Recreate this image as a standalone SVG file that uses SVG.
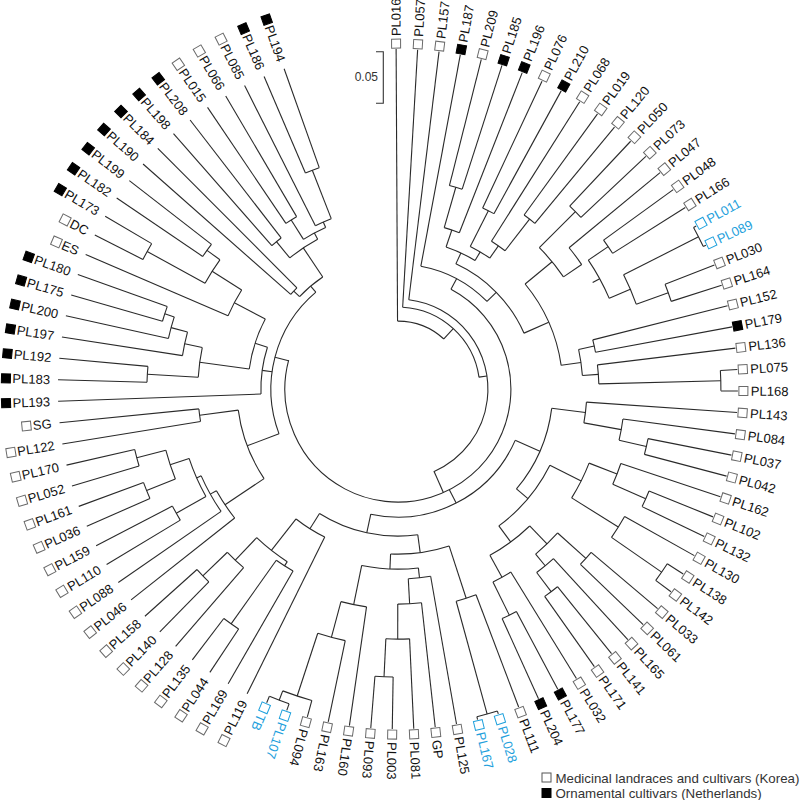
<svg xmlns="http://www.w3.org/2000/svg" width="800" height="800" viewBox="0 0 800 800">
<style>
.c line,.c circle{fill:none;stroke:#2a2a2a;stroke-width:1.1}
.lf text{font-family:"Liberation Sans",Arial,sans-serif;font-size:13px;fill:#111}
.m{fill:#fff;stroke:#6a6a6a;stroke-width:1}
.o{fill:#000;stroke:#000;stroke-width:1}
.b text{fill:#1ea0dc}
.b rect{stroke:#1ea0dc}
.lg text{font-family:"Liberation Sans",Arial,sans-serif;font-size:13.3px;fill:#333}
</style>
<rect width="800" height="800" fill="#fff"/>
<g transform="translate(397.9 389.1)">
<g id="connectors" class="c">
<circle r="68" stroke-dasharray="50.76 5000" transform="rotate(-90.3)"/>
<circle r="82" stroke-dasharray="112.04 5000" transform="rotate(-86.675)"/>
<circle r="90" stroke-dasharray="234.57 5000" transform="rotate(-83.05)"/>
<circle r="113" stroke-dasharray="505.95 5000" transform="rotate(-61.99)"/>
<circle r="125" stroke-dasharray="76.09 5000" transform="rotate(-79.425)"/>
<circle r="138" stroke-dasharray="99.30 5000" transform="rotate(-65.16)"/>
<circle r="150" stroke-dasharray="32.02 5000" transform="rotate(-71.27)"/>
<circle r="168" stroke-dasharray="15.95 5000" transform="rotate(-73.99)"/>
<circle r="210" stroke-dasharray="13.29 5000" transform="rotate(-75.8)"/>
<circle r="160" stroke-dasharray="22.76 5000" transform="rotate(-63.11)"/>
<circle r="200" stroke-dasharray="12.65 5000" transform="rotate(-64.925)"/>
<circle r="175" stroke-dasharray="16.60 5000" transform="rotate(-57.675)"/>
<circle r="215" stroke-dasharray="13.60 5000" transform="rotate(-54.05)"/>
<circle r="165" stroke-dasharray="90.05 5000" transform="rotate(-39.56)"/>
<circle r="200" stroke-dasharray="37.94 5000" transform="rotate(-44.99)"/>
<circle r="251" stroke-dasharray="15.88 5000" transform="rotate(-46.8)"/>
<circle r="222" stroke-dasharray="21.04 5000" transform="rotate(-39.55)"/>
<circle r="230" stroke-dasharray="43.64 5000" transform="rotate(-34.11)"/>
<circle r="254" stroke-dasharray="16.07 5000" transform="rotate(-35.925)"/>
<circle r="253" stroke-dasharray="32.01 5000" transform="rotate(-26.86)"/>
<circle r="337" stroke-dasharray="21.32 5000" transform="rotate(-28.675)"/>
<circle r="287" stroke-dasharray="18.16 5000" transform="rotate(-21.425)"/>
<circle r="185" stroke-dasharray="26.32 5000" transform="rotate(-12.36)"/>
<circle r="201" stroke-dasharray="12.72 5000" transform="rotate(-14.175)"/>
<circle r="201" stroke-dasharray="19.07 5000" transform="rotate(-6.925)"/>
<circle r="323" stroke-dasharray="20.44 5000" transform="rotate(-3.3)"/>
<circle r="128" stroke-dasharray="175.64 5000" transform="rotate(23.61)"/>
<circle r="155" stroke-dasharray="89.19 5000" transform="rotate(7.12)"/>
<circle r="189" stroke-dasharray="20.91 5000" transform="rotate(3.95)"/>
<circle r="227" stroke-dasharray="21.53 5000" transform="rotate(7.575)"/>
<circle r="255" stroke-dasharray="16.13 5000" transform="rotate(11.2)"/>
<circle r="170" stroke-dasharray="79.99 5000" transform="rotate(26.61)"/>
<circle r="205" stroke-dasharray="38.89 5000" transform="rotate(21.17)"/>
<circle r="235" stroke-dasharray="22.31 5000" transform="rotate(18.45)"/>
<circle r="271" stroke-dasharray="17.15 5000" transform="rotate(22.075)"/>
<circle r="260" stroke-dasharray="24.66 5000" transform="rotate(29.325)"/>
<circle r="321" stroke-dasharray="20.31 5000" transform="rotate(32.95)"/>
<circle r="190" stroke-dasharray="49.58 5000" transform="rotate(46.09)"/>
<circle r="215" stroke-dasharray="30.62 5000" transform="rotate(42.01)"/>
<circle r="253" stroke-dasharray="16.01 5000" transform="rotate(40.2)"/>
<circle r="230" stroke-dasharray="21.84 5000" transform="rotate(47.45)"/>
<circle r="254" stroke-dasharray="16.07 5000" transform="rotate(51.075)"/>
<circle r="215" stroke-dasharray="20.39 5000" transform="rotate(58.325)"/>
<circle r="252" stroke-dasharray="15.94 5000" transform="rotate(61.95)"/>
<circle r="147" stroke-dasharray="102.60 5000" transform="rotate(82.23)"/>
<circle r="165" stroke-dasharray="59.38 5000" transform="rotate(71.92)"/>
<circle r="220" stroke-dasharray="20.89 5000" transform="rotate(69.2)"/>
<circle r="337" stroke-dasharray="21.32 5000" transform="rotate(72.825)"/>
<circle r="180" stroke-dasharray="56.96 5000" transform="rotate(83.47)"/>
<circle r="190" stroke-dasharray="22.53 5000" transform="rotate(80.075)"/>
<circle r="215" stroke-dasharray="23.79 5000" transform="rotate(83.7)"/>
<circle r="250" stroke-dasharray="23.71 5000" transform="rotate(87.325)"/>
<circle r="288" stroke-dasharray="18.22 5000" transform="rotate(90.95)"/>
<circle r="220" stroke-dasharray="26.11 5000" transform="rotate(98.2)"/>
<circle r="257" stroke-dasharray="28.46 5000" transform="rotate(101.825)"/>
<circle r="323" stroke-dasharray="30.67 5000" transform="rotate(105.45)"/>
<circle r="333" stroke-dasharray="21.07 5000" transform="rotate(109.075)"/>
<circle r="165" stroke-dasharray="33.94 5000" transform="rotate(116.325)"/>
<circle r="205" stroke-dasharray="38.89 5000" transform="rotate(122.67)"/>
<circle r="210" stroke-dasharray="19.94 5000" transform="rotate(119.95)"/>
<circle r="288" stroke-dasharray="18.22 5000" transform="rotate(123.575)"/>
<circle r="236" stroke-dasharray="22.39 5000" transform="rotate(130.825)"/>
<circle r="270" stroke-dasharray="17.08 5000" transform="rotate(134.45)"/>
<circle r="127" stroke-dasharray="155.94 5000" transform="rotate(159.37)"/>
<circle r="161" stroke-dasharray="73.85 5000" transform="rotate(146.23)"/>
<circle r="208" stroke-dasharray="32.89 5000" transform="rotate(141.7)"/>
<circle r="215" stroke-dasharray="40.81 5000" transform="rotate(145.325)"/>
<circle r="220" stroke-dasharray="41.78 5000" transform="rotate(150.76)"/>
<circle r="254" stroke-dasharray="16.07 5000" transform="rotate(148.95)"/>
<circle r="240" stroke-dasharray="30.37 5000" transform="rotate(158.01)"/>
<circle r="271" stroke-dasharray="17.15 5000" transform="rotate(156.2)"/>
<circle r="270" stroke-dasharray="17.08 5000" transform="rotate(163.45)"/>
<circle r="200" stroke-dasharray="12.65 5000" transform="rotate(170.7)"/>
<circle r="137" stroke-dasharray="47.42 5000" transform="rotate(177.95)"/>
<circle r="150" stroke-dasharray="52.78 5000" transform="rotate(187.7)"/>
<circle r="200" stroke-dasharray="30.05 5000" transform="rotate(183.39)"/>
<circle r="251" stroke-dasharray="15.88 5000" transform="rotate(181.575)"/>
<circle r="218" stroke-dasharray="24.14 5000" transform="rotate(188.825)"/>
<circle r="235" stroke-dasharray="22.31 5000" transform="rotate(192.45)"/>
<circle r="245" stroke-dasharray="15.50 5000" transform="rotate(196.075)"/>
<circle r="185" stroke-dasharray="29.27 5000" transform="rotate(203.325)"/>
<circle r="220" stroke-dasharray="27.84 5000" transform="rotate(208.76)"/>
<circle r="286" stroke-dasharray="18.09 5000" transform="rotate(206.95)"/>
<circle r="236" stroke-dasharray="14.93 5000" transform="rotate(214.2)"/>
<circle r="135" stroke-dasharray="30.44 5000" transform="rotate(223.26)"/>
<circle r="143" stroke-dasharray="9.05 5000" transform="rotate(221.45)"/>
<circle r="170" stroke-dasharray="33.62 5000" transform="rotate(230.51)"/>
<circle r="191" stroke-dasharray="12.08 5000" transform="rotate(228.7)"/>
<circle r="177" stroke-dasharray="25.21 5000" transform="rotate(237.76)"/>
<circle r="200" stroke-dasharray="12.65 5000" transform="rotate(235.95)"/>
<circle r="183" stroke-dasharray="17.37 5000" transform="rotate(243.2)"/>
<circle r="235" stroke-dasharray="14.87 5000" transform="rotate(246.825)"/>
<line x1="68" x2="82" transform="rotate(-47.53)"/>
<line x1="82" x2="90" transform="rotate(-8.39)"/>
<line x1="90" x2="113" transform="rotate(66.28)"/>
<line x1="113" x2="125" transform="rotate(-61.99)"/>
<line x1="113" x2="128" transform="rotate(62.92)"/>
<line x1="113" x2="127" transform="rotate(194.55)"/>
<line x1="125" x2="138" transform="rotate(-44.55)"/>
<line x1="138" x2="150" transform="rotate(-65.16)"/>
<line x1="150" x2="168" transform="rotate(-71.27)"/>
<line x1="168" x2="210" transform="rotate(-73.99)"/>
<line x1="150" x2="160" transform="rotate(-59.04)"/>
<line x1="160" x2="200" transform="rotate(-63.11)"/>
<line x1="160" x2="175" transform="rotate(-54.96)"/>
<line x1="175" x2="215" transform="rotate(-52.24)"/>
<line x1="138" x2="165" transform="rotate(-23.93)"/>
<line x1="165" x2="200" transform="rotate(-39.56)"/>
<line x1="200" x2="251" transform="rotate(-44.99)"/>
<line x1="200" x2="222" transform="rotate(-34.12)"/>
<line x1="222" x2="230" transform="rotate(-28.68)"/>
<line x1="230" x2="254" transform="rotate(-34.11)"/>
<line x1="230" x2="253" transform="rotate(-23.24)"/>
<line x1="253" x2="337" transform="rotate(-26.86)"/>
<line x1="253" x2="287" transform="rotate(-19.61)"/>
<line x1="165" x2="185" transform="rotate(-8.29)"/>
<line x1="185" x2="201" transform="rotate(-12.36)"/>
<line x1="185" x2="201" transform="rotate(-4.21)"/>
<line x1="201" x2="323" transform="rotate(-1.49)"/>
<line x1="128" x2="155" transform="rotate(23.61)"/>
<line x1="155" x2="189" transform="rotate(7.12)"/>
<line x1="189" x2="227" transform="rotate(10.29)"/>
<line x1="227" x2="255" transform="rotate(13.01)"/>
<line x1="155" x2="170" transform="rotate(40.09)"/>
<line x1="170" x2="205" transform="rotate(26.61)"/>
<line x1="205" x2="235" transform="rotate(21.17)"/>
<line x1="235" x2="271" transform="rotate(23.89)"/>
<line x1="205" x2="260" transform="rotate(32.04)"/>
<line x1="260" x2="321" transform="rotate(34.76)"/>
<line x1="170" x2="190" transform="rotate(53.57)"/>
<line x1="190" x2="215" transform="rotate(46.09)"/>
<line x1="215" x2="253" transform="rotate(42.01)"/>
<line x1="215" x2="230" transform="rotate(50.17)"/>
<line x1="230" x2="254" transform="rotate(52.89)"/>
<line x1="190" x2="215" transform="rotate(61.04)"/>
<line x1="215" x2="252" transform="rotate(63.76)"/>
<line x1="128" x2="147" transform="rotate(102.23)"/>
<line x1="147" x2="165" transform="rotate(82.23)"/>
<line x1="165" x2="220" transform="rotate(71.92)"/>
<line x1="220" x2="337" transform="rotate(74.64)"/>
<line x1="165" x2="180" transform="rotate(92.54)"/>
<line x1="180" x2="190" transform="rotate(83.47)"/>
<line x1="190" x2="215" transform="rotate(86.87)"/>
<line x1="215" x2="250" transform="rotate(90.04)"/>
<line x1="250" x2="288" transform="rotate(92.76)"/>
<line x1="180" x2="220" transform="rotate(101.6)"/>
<line x1="220" x2="257" transform="rotate(105.0)"/>
<line x1="257" x2="323" transform="rotate(108.17)"/>
<line x1="323" x2="333" transform="rotate(110.89)"/>
<line x1="147" x2="165" transform="rotate(122.22)"/>
<line x1="165" x2="205" transform="rotate(128.11)"/>
<line x1="205" x2="210" transform="rotate(122.67)"/>
<line x1="210" x2="288" transform="rotate(125.39)"/>
<line x1="205" x2="236" transform="rotate(133.54)"/>
<line x1="236" x2="270" transform="rotate(136.26)"/>
<line x1="127" x2="161" transform="rotate(159.37)"/>
<line x1="161" x2="208" transform="rotate(146.23)"/>
<line x1="208" x2="215" transform="rotate(150.76)"/>
<line x1="215" x2="220" transform="rotate(156.2)"/>
<line x1="220" x2="254" transform="rotate(150.76)"/>
<line x1="220" x2="240" transform="rotate(161.64)"/>
<line x1="240" x2="271" transform="rotate(158.01)"/>
<line x1="240" x2="270" transform="rotate(165.26)"/>
<line x1="161" x2="200" transform="rotate(172.51)"/>
<line x1="127" x2="137" transform="rotate(187.87)"/>
<line x1="137" x2="150" transform="rotate(197.78)"/>
<line x1="150" x2="200" transform="rotate(187.7)"/>
<line x1="200" x2="251" transform="rotate(183.39)"/>
<line x1="200" x2="218" transform="rotate(192.0)"/>
<line x1="218" x2="235" transform="rotate(195.17)"/>
<line x1="235" x2="245" transform="rotate(197.89)"/>
<line x1="150" x2="185" transform="rotate(207.86)"/>
<line x1="185" x2="220" transform="rotate(212.39)"/>
<line x1="220" x2="286" transform="rotate(208.76)"/>
<line x1="220" x2="236" transform="rotate(216.01)"/>
<line x1="127" x2="135" transform="rotate(229.72)"/>
<line x1="135" x2="143" transform="rotate(223.26)"/>
<line x1="135" x2="170" transform="rotate(236.18)"/>
<line x1="170" x2="191" transform="rotate(230.51)"/>
<line x1="170" x2="177" transform="rotate(241.84)"/>
<line x1="177" x2="200" transform="rotate(237.76)"/>
<line x1="177" x2="183" transform="rotate(245.92)"/>
<line x1="183" x2="235" transform="rotate(248.64)"/>
<line x1="68" x2="340" transform="rotate(-90.3)"/>
<line x1="82" x2="340" transform="rotate(-86.675)"/>
<line x1="90" x2="340" transform="rotate(-83.05)"/>
<line x1="125" x2="340" transform="rotate(-79.425)"/>
<line x1="210" x2="340" transform="rotate(-75.8)"/>
<line x1="210" x2="340" transform="rotate(-72.175)"/>
<line x1="168" x2="340" transform="rotate(-68.55)"/>
<line x1="200" x2="340" transform="rotate(-64.925)"/>
<line x1="200" x2="340" transform="rotate(-61.3)"/>
<line x1="175" x2="340" transform="rotate(-57.675)"/>
<line x1="215" x2="340" transform="rotate(-54.05)"/>
<line x1="215" x2="340" transform="rotate(-50.425)"/>
<line x1="251" x2="340" transform="rotate(-46.8)"/>
<line x1="251" x2="340" transform="rotate(-43.175)"/>
<line x1="222" x2="340" transform="rotate(-39.55)"/>
<line x1="254" x2="340" transform="rotate(-35.925)"/>
<line x1="254" x2="340" transform="rotate(-32.3)"/>
<line x1="337" x2="340" transform="rotate(-28.675)"/>
<line x1="337" x2="340" transform="rotate(-25.05)"/>
<line x1="287" x2="340" transform="rotate(-21.425)"/>
<line x1="287" x2="340" transform="rotate(-17.8)"/>
<line x1="201" x2="340" transform="rotate(-14.175)"/>
<line x1="201" x2="340" transform="rotate(-10.55)"/>
<line x1="201" x2="340" transform="rotate(-6.925)"/>
<line x1="323" x2="340" transform="rotate(-3.3)"/>
<line x1="323" x2="340" transform="rotate(0.325)"/>
<line x1="189" x2="340" transform="rotate(3.95)"/>
<line x1="227" x2="340" transform="rotate(7.575)"/>
<line x1="255" x2="340" transform="rotate(11.2)"/>
<line x1="255" x2="340" transform="rotate(14.825)"/>
<line x1="235" x2="340" transform="rotate(18.45)"/>
<line x1="271" x2="340" transform="rotate(22.075)"/>
<line x1="271" x2="340" transform="rotate(25.7)"/>
<line x1="260" x2="340" transform="rotate(29.325)"/>
<line x1="321" x2="340" transform="rotate(32.95)"/>
<line x1="321" x2="340" transform="rotate(36.575)"/>
<line x1="253" x2="340" transform="rotate(40.2)"/>
<line x1="253" x2="340" transform="rotate(43.825)"/>
<line x1="230" x2="340" transform="rotate(47.45)"/>
<line x1="254" x2="340" transform="rotate(51.075)"/>
<line x1="254" x2="340" transform="rotate(54.7)"/>
<line x1="215" x2="340" transform="rotate(58.325)"/>
<line x1="252" x2="340" transform="rotate(61.95)"/>
<line x1="252" x2="340" transform="rotate(65.575)"/>
<line x1="220" x2="340" transform="rotate(69.2)"/>
<line x1="337" x2="340" transform="rotate(72.825)"/>
<line x1="337" x2="340" transform="rotate(76.45)"/>
<line x1="190" x2="340" transform="rotate(80.075)"/>
<line x1="215" x2="340" transform="rotate(83.7)"/>
<line x1="250" x2="340" transform="rotate(87.325)"/>
<line x1="288" x2="340" transform="rotate(90.95)"/>
<line x1="288" x2="340" transform="rotate(94.575)"/>
<line x1="220" x2="340" transform="rotate(98.2)"/>
<line x1="257" x2="340" transform="rotate(101.825)"/>
<line x1="323" x2="340" transform="rotate(105.45)"/>
<line x1="333" x2="340" transform="rotate(109.075)"/>
<line x1="333" x2="340" transform="rotate(112.7)"/>
<line x1="165" x2="340" transform="rotate(116.325)"/>
<line x1="210" x2="340" transform="rotate(119.95)"/>
<line x1="288" x2="340" transform="rotate(123.575)"/>
<line x1="288" x2="340" transform="rotate(127.2)"/>
<line x1="236" x2="340" transform="rotate(130.825)"/>
<line x1="270" x2="340" transform="rotate(134.45)"/>
<line x1="270" x2="340" transform="rotate(138.075)"/>
<line x1="208" x2="340" transform="rotate(141.7)"/>
<line x1="215" x2="340" transform="rotate(145.325)"/>
<line x1="254" x2="340" transform="rotate(148.95)"/>
<line x1="254" x2="340" transform="rotate(152.575)"/>
<line x1="271" x2="340" transform="rotate(156.2)"/>
<line x1="271" x2="340" transform="rotate(159.825)"/>
<line x1="270" x2="340" transform="rotate(163.45)"/>
<line x1="270" x2="340" transform="rotate(167.075)"/>
<line x1="200" x2="340" transform="rotate(170.7)"/>
<line x1="200" x2="340" transform="rotate(174.325)"/>
<line x1="137" x2="340" transform="rotate(177.95)"/>
<line x1="251" x2="340" transform="rotate(181.575)"/>
<line x1="251" x2="340" transform="rotate(185.2)"/>
<line x1="218" x2="340" transform="rotate(188.825)"/>
<line x1="235" x2="340" transform="rotate(192.45)"/>
<line x1="245" x2="340" transform="rotate(196.075)"/>
<line x1="245" x2="340" transform="rotate(199.7)"/>
<line x1="185" x2="340" transform="rotate(203.325)"/>
<line x1="286" x2="340" transform="rotate(206.95)"/>
<line x1="286" x2="340" transform="rotate(210.575)"/>
<line x1="236" x2="340" transform="rotate(214.2)"/>
<line x1="236" x2="340" transform="rotate(217.825)"/>
<line x1="143" x2="340" transform="rotate(221.45)"/>
<line x1="143" x2="340" transform="rotate(225.075)"/>
<line x1="191" x2="340" transform="rotate(228.7)"/>
<line x1="191" x2="340" transform="rotate(232.325)"/>
<line x1="200" x2="340" transform="rotate(235.95)"/>
<line x1="200" x2="340" transform="rotate(239.575)"/>
<line x1="183" x2="340" transform="rotate(243.2)"/>
<line x1="235" x2="340" transform="rotate(246.825)"/>
<line x1="235" x2="340" transform="rotate(250.45)"/>
</g>
<g id="PL016" class="lf" transform="rotate(-90.3)"><rect class="m" x="341" y="-4.5" width="9" height="9"/><text x="353" y="4.6">PL016</text></g>
<g id="PL057" class="lf" transform="rotate(-86.675)"><rect class="m" x="341" y="-4.5" width="9" height="9"/><text x="353" y="4.6">PL057</text></g>
<g id="PL157" class="lf" transform="rotate(-83.05)"><rect class="m" x="341" y="-4.5" width="9" height="9"/><text x="353" y="4.6">PL157</text></g>
<g id="PL187" class="lf" transform="rotate(-79.425)"><rect class="o" x="341" y="-4.5" width="9" height="9"/><text x="353" y="4.6">PL187</text></g>
<g id="PL209" class="lf" transform="rotate(-75.8)"><rect class="m" x="341" y="-4.5" width="9" height="9"/><text x="353" y="4.6">PL209</text></g>
<g id="PL185" class="lf" transform="rotate(-72.175)"><rect class="o" x="341" y="-4.5" width="9" height="9"/><text x="353" y="4.6">PL185</text></g>
<g id="PL196" class="lf" transform="rotate(-68.55)"><rect class="o" x="341" y="-4.5" width="9" height="9"/><text x="353" y="4.6">PL196</text></g>
<g id="PL076" class="lf" transform="rotate(-64.925)"><rect class="m" x="341" y="-4.5" width="9" height="9"/><text x="353" y="4.6">PL076</text></g>
<g id="PL210" class="lf" transform="rotate(-61.3)"><rect class="o" x="341" y="-4.5" width="9" height="9"/><text x="353" y="4.6">PL210</text></g>
<g id="PL068" class="lf" transform="rotate(-57.675)"><rect class="m" x="341" y="-4.5" width="9" height="9"/><text x="353" y="4.6">PL068</text></g>
<g id="PL019" class="lf" transform="rotate(-54.05)"><rect class="m" x="341" y="-4.5" width="9" height="9"/><text x="353" y="4.6">PL019</text></g>
<g id="PL120" class="lf" transform="rotate(-50.425)"><rect class="m" x="341" y="-4.5" width="9" height="9"/><text x="353" y="4.6">PL120</text></g>
<g id="PL050" class="lf" transform="rotate(-46.8)"><rect class="m" x="341" y="-4.5" width="9" height="9"/><text x="353" y="4.6">PL050</text></g>
<g id="PL073" class="lf" transform="rotate(-43.175)"><rect class="m" x="341" y="-4.5" width="9" height="9"/><text x="353" y="4.6">PL073</text></g>
<g id="PL047" class="lf" transform="rotate(-39.55)"><rect class="m" x="341" y="-4.5" width="9" height="9"/><text x="353" y="4.6">PL047</text></g>
<g id="PL048" class="lf" transform="rotate(-35.925)"><rect class="m" x="341" y="-4.5" width="9" height="9"/><text x="353" y="4.6">PL048</text></g>
<g id="PL166" class="lf" transform="rotate(-32.3)"><rect class="m" x="341" y="-4.5" width="9" height="9"/><text x="353" y="4.6">PL166</text></g>
<g id="PL011" class="lf b" transform="rotate(-28.675)"><rect class="m" x="341" y="-4.5" width="9" height="9"/><text x="353" y="4.6">PL011</text></g>
<g id="PL089" class="lf b" transform="rotate(-25.05)"><rect class="m" x="341" y="-4.5" width="9" height="9"/><text x="353" y="4.6">PL089</text></g>
<g id="PL030" class="lf" transform="rotate(-21.425)"><rect class="m" x="341" y="-4.5" width="9" height="9"/><text x="353" y="4.6">PL030</text></g>
<g id="PL164" class="lf" transform="rotate(-17.8)"><rect class="m" x="341" y="-4.5" width="9" height="9"/><text x="353" y="4.6">PL164</text></g>
<g id="PL152" class="lf" transform="rotate(-14.175)"><rect class="m" x="341" y="-4.5" width="9" height="9"/><text x="353" y="4.6">PL152</text></g>
<g id="PL179" class="lf" transform="rotate(-10.55)"><rect class="o" x="341" y="-4.5" width="9" height="9"/><text x="353" y="4.6">PL179</text></g>
<g id="PL136" class="lf" transform="rotate(-6.925)"><rect class="m" x="341" y="-4.5" width="9" height="9"/><text x="353" y="4.6">PL136</text></g>
<g id="PL075" class="lf" transform="rotate(-3.3)"><rect class="m" x="341" y="-4.5" width="9" height="9"/><text x="353" y="4.6">PL075</text></g>
<g id="PL168" class="lf" transform="rotate(0.325)"><rect class="m" x="341" y="-4.5" width="9" height="9"/><text x="353" y="4.6">PL168</text></g>
<g id="PL143" class="lf" transform="rotate(3.95)"><rect class="m" x="341" y="-4.5" width="9" height="9"/><text x="353" y="4.6">PL143</text></g>
<g id="PL084" class="lf" transform="rotate(7.575)"><rect class="m" x="341" y="-4.5" width="9" height="9"/><text x="353" y="4.6">PL084</text></g>
<g id="PL037" class="lf" transform="rotate(11.2)"><rect class="m" x="341" y="-4.5" width="9" height="9"/><text x="353" y="4.6">PL037</text></g>
<g id="PL042" class="lf" transform="rotate(14.825)"><rect class="m" x="341" y="-4.5" width="9" height="9"/><text x="353" y="4.6">PL042</text></g>
<g id="PL162" class="lf" transform="rotate(18.45)"><rect class="m" x="341" y="-4.5" width="9" height="9"/><text x="353" y="4.6">PL162</text></g>
<g id="PL102" class="lf" transform="rotate(22.075)"><rect class="m" x="341" y="-4.5" width="9" height="9"/><text x="353" y="4.6">PL102</text></g>
<g id="PL132" class="lf" transform="rotate(25.7)"><rect class="m" x="341" y="-4.5" width="9" height="9"/><text x="353" y="4.6">PL132</text></g>
<g id="PL130" class="lf" transform="rotate(29.325)"><rect class="m" x="341" y="-4.5" width="9" height="9"/><text x="353" y="4.6">PL130</text></g>
<g id="PL138" class="lf" transform="rotate(32.95)"><rect class="m" x="341" y="-4.5" width="9" height="9"/><text x="353" y="4.6">PL138</text></g>
<g id="PL142" class="lf" transform="rotate(36.575)"><rect class="m" x="341" y="-4.5" width="9" height="9"/><text x="353" y="4.6">PL142</text></g>
<g id="PL033" class="lf" transform="rotate(40.2)"><rect class="m" x="341" y="-4.5" width="9" height="9"/><text x="353" y="4.6">PL033</text></g>
<g id="PL061" class="lf" transform="rotate(43.825)"><rect class="m" x="341" y="-4.5" width="9" height="9"/><text x="353" y="4.6">PL061</text></g>
<g id="PL165" class="lf" transform="rotate(47.45)"><rect class="m" x="341" y="-4.5" width="9" height="9"/><text x="353" y="4.6">PL165</text></g>
<g id="PL141" class="lf" transform="rotate(51.075)"><rect class="m" x="341" y="-4.5" width="9" height="9"/><text x="353" y="4.6">PL141</text></g>
<g id="PL171" class="lf" transform="rotate(54.7)"><rect class="m" x="341" y="-4.5" width="9" height="9"/><text x="353" y="4.6">PL171</text></g>
<g id="PL032" class="lf" transform="rotate(58.325)"><rect class="m" x="341" y="-4.5" width="9" height="9"/><text x="353" y="4.6">PL032</text></g>
<g id="PL177" class="lf" transform="rotate(61.95)"><rect class="o" x="341" y="-4.5" width="9" height="9"/><text x="353" y="4.6">PL177</text></g>
<g id="PL204" class="lf" transform="rotate(65.575)"><rect class="o" x="341" y="-4.5" width="9" height="9"/><text x="353" y="4.6">PL204</text></g>
<g id="PL111" class="lf" transform="rotate(69.2)"><rect class="m" x="341" y="-4.5" width="9" height="9"/><text x="353" y="4.6">PL111</text></g>
<g id="PL028" class="lf b" transform="rotate(72.825)"><rect class="m" x="341" y="-4.5" width="9" height="9"/><text x="353" y="4.6">PL028</text></g>
<g id="PL167" class="lf b" transform="rotate(76.45)"><rect class="m" x="341" y="-4.5" width="9" height="9"/><text x="353" y="4.6">PL167</text></g>
<g id="PL125" class="lf" transform="rotate(80.075)"><rect class="m" x="341" y="-4.5" width="9" height="9"/><text x="353" y="4.6">PL125</text></g>
<g id="GP" class="lf" transform="rotate(83.7)"><rect class="m" x="341" y="-4.5" width="9" height="9"/><text x="353" y="4.6">GP</text></g>
<g id="PL081" class="lf" transform="rotate(87.325)"><rect class="m" x="341" y="-4.5" width="9" height="9"/><text x="353" y="4.6">PL081</text></g>
<g id="PL003" class="lf" transform="rotate(90.95)"><rect class="m" x="341" y="-4.5" width="9" height="9"/><text x="353" y="4.6">PL003</text></g>
<g id="PL093" class="lf" transform="rotate(94.575)"><rect class="m" x="341" y="-4.5" width="9" height="9"/><text x="353" y="4.6">PL093</text></g>
<g id="PL160" class="lf" transform="rotate(98.2)"><rect class="m" x="341" y="-4.5" width="9" height="9"/><text x="353" y="4.6">PL160</text></g>
<g id="PL163" class="lf" transform="rotate(101.825)"><rect class="m" x="341" y="-4.5" width="9" height="9"/><text x="353" y="4.6">PL163</text></g>
<g id="PL094" class="lf" transform="rotate(105.45)"><rect class="m" x="341" y="-4.5" width="9" height="9"/><text x="353" y="4.6">PL094</text></g>
<g id="PL107" class="lf b" transform="rotate(109.075)"><rect class="m" x="341" y="-4.5" width="9" height="9"/><text x="353" y="4.6">PL107</text></g>
<g id="TB" class="lf b" transform="rotate(112.7)"><rect class="m" x="341" y="-4.5" width="9" height="9"/><text x="353" y="4.6">TB</text></g>
<g id="PL119" class="lf" transform="rotate(-63.675)"><rect class="m" x="-396.6" y="-4.5" width="9" height="9"/><text x="-348" y="4.6" text-anchor="end">PL119</text></g>
<g id="PL169" class="lf" transform="rotate(-60.05)"><rect class="m" x="-396.6" y="-4.5" width="9" height="9"/><text x="-348" y="4.6" text-anchor="end">PL169</text></g>
<g id="PL044" class="lf" transform="rotate(-56.425)"><rect class="m" x="-396.6" y="-4.5" width="9" height="9"/><text x="-348" y="4.6" text-anchor="end">PL044</text></g>
<g id="PL135" class="lf" transform="rotate(-52.8)"><rect class="m" x="-396.6" y="-4.5" width="9" height="9"/><text x="-348" y="4.6" text-anchor="end">PL135</text></g>
<g id="PL128" class="lf" transform="rotate(-49.175)"><rect class="m" x="-396.6" y="-4.5" width="9" height="9"/><text x="-348" y="4.6" text-anchor="end">PL128</text></g>
<g id="PL140" class="lf" transform="rotate(-45.55)"><rect class="m" x="-396.6" y="-4.5" width="9" height="9"/><text x="-348" y="4.6" text-anchor="end">PL140</text></g>
<g id="PL158" class="lf" transform="rotate(-41.925)"><rect class="m" x="-396.6" y="-4.5" width="9" height="9"/><text x="-348" y="4.6" text-anchor="end">PL158</text></g>
<g id="PL046" class="lf" transform="rotate(-38.3)"><rect class="m" x="-396.6" y="-4.5" width="9" height="9"/><text x="-348" y="4.6" text-anchor="end">PL046</text></g>
<g id="PL088" class="lf" transform="rotate(-34.675)"><rect class="m" x="-396.6" y="-4.5" width="9" height="9"/><text x="-348" y="4.6" text-anchor="end">PL088</text></g>
<g id="PL110" class="lf" transform="rotate(-31.05)"><rect class="m" x="-396.6" y="-4.5" width="9" height="9"/><text x="-348" y="4.6" text-anchor="end">PL110</text></g>
<g id="PL159" class="lf" transform="rotate(-27.425)"><rect class="m" x="-396.6" y="-4.5" width="9" height="9"/><text x="-348" y="4.6" text-anchor="end">PL159</text></g>
<g id="PL036" class="lf" transform="rotate(-23.8)"><rect class="m" x="-396.6" y="-4.5" width="9" height="9"/><text x="-348" y="4.6" text-anchor="end">PL036</text></g>
<g id="PL161" class="lf" transform="rotate(-20.175)"><rect class="m" x="-396.6" y="-4.5" width="9" height="9"/><text x="-348" y="4.6" text-anchor="end">PL161</text></g>
<g id="PL052" class="lf" transform="rotate(-16.55)"><rect class="m" x="-396.6" y="-4.5" width="9" height="9"/><text x="-348" y="4.6" text-anchor="end">PL052</text></g>
<g id="PL170" class="lf" transform="rotate(-12.925)"><rect class="m" x="-396.6" y="-4.5" width="9" height="9"/><text x="-348" y="4.6" text-anchor="end">PL170</text></g>
<g id="PL122" class="lf" transform="rotate(-9.3)"><rect class="m" x="-396.6" y="-4.5" width="9" height="9"/><text x="-348" y="4.6" text-anchor="end">PL122</text></g>
<g id="SG" class="lf" transform="rotate(-5.675)"><rect class="m" x="-377.8" y="-4.5" width="9" height="9"/><text x="-348" y="4.6" text-anchor="end">SG</text></g>
<g id="PL193" class="lf" transform="rotate(-2.05)"><rect class="o" x="-396.6" y="-4.5" width="9" height="9"/><text x="-348" y="4.6" text-anchor="end">PL193</text></g>
<g id="PL183" class="lf" transform="rotate(1.575)"><rect class="o" x="-396.6" y="-4.5" width="9" height="9"/><text x="-348" y="4.6" text-anchor="end">PL183</text></g>
<g id="PL192" class="lf" transform="rotate(5.2)"><rect class="o" x="-396.6" y="-4.5" width="9" height="9"/><text x="-348" y="4.6" text-anchor="end">PL192</text></g>
<g id="PL197" class="lf" transform="rotate(8.825)"><rect class="o" x="-396.6" y="-4.5" width="9" height="9"/><text x="-348" y="4.6" text-anchor="end">PL197</text></g>
<g id="PL200" class="lf" transform="rotate(12.45)"><rect class="o" x="-396.6" y="-4.5" width="9" height="9"/><text x="-348" y="4.6" text-anchor="end">PL200</text></g>
<g id="PL175" class="lf" transform="rotate(16.075)"><rect class="o" x="-396.6" y="-4.5" width="9" height="9"/><text x="-348" y="4.6" text-anchor="end">PL175</text></g>
<g id="PL180" class="lf" transform="rotate(19.7)"><rect class="o" x="-396.6" y="-4.5" width="9" height="9"/><text x="-348" y="4.6" text-anchor="end">PL180</text></g>
<g id="ES" class="lf" transform="rotate(23.325)"><rect class="m" x="-376.3" y="-4.5" width="9" height="9"/><text x="-348" y="4.6" text-anchor="end">ES</text></g>
<g id="DC" class="lf" transform="rotate(26.95)"><rect class="m" x="-377.8" y="-4.5" width="9" height="9"/><text x="-348" y="4.6" text-anchor="end">DC</text></g>
<g id="PL173" class="lf" transform="rotate(30.575)"><rect class="o" x="-396.6" y="-4.5" width="9" height="9"/><text x="-348" y="4.6" text-anchor="end">PL173</text></g>
<g id="PL182" class="lf" transform="rotate(34.2)"><rect class="o" x="-396.6" y="-4.5" width="9" height="9"/><text x="-348" y="4.6" text-anchor="end">PL182</text></g>
<g id="PL199" class="lf" transform="rotate(37.825)"><rect class="o" x="-396.6" y="-4.5" width="9" height="9"/><text x="-348" y="4.6" text-anchor="end">PL199</text></g>
<g id="PL190" class="lf" transform="rotate(41.45)"><rect class="o" x="-396.6" y="-4.5" width="9" height="9"/><text x="-348" y="4.6" text-anchor="end">PL190</text></g>
<g id="PL184" class="lf" transform="rotate(45.075)"><rect class="o" x="-396.6" y="-4.5" width="9" height="9"/><text x="-348" y="4.6" text-anchor="end">PL184</text></g>
<g id="PL198" class="lf" transform="rotate(48.7)"><rect class="o" x="-396.6" y="-4.5" width="9" height="9"/><text x="-348" y="4.6" text-anchor="end">PL198</text></g>
<g id="PL208" class="lf" transform="rotate(52.325)"><rect class="o" x="-396.6" y="-4.5" width="9" height="9"/><text x="-348" y="4.6" text-anchor="end">PL208</text></g>
<g id="PL015" class="lf" transform="rotate(55.95)"><rect class="m" x="-396.6" y="-4.5" width="9" height="9"/><text x="-348" y="4.6" text-anchor="end">PL015</text></g>
<g id="PL066" class="lf" transform="rotate(59.575)"><rect class="m" x="-396.6" y="-4.5" width="9" height="9"/><text x="-348" y="4.6" text-anchor="end">PL066</text></g>
<g id="PL085" class="lf" transform="rotate(63.2)"><rect class="m" x="-396.6" y="-4.5" width="9" height="9"/><text x="-348" y="4.6" text-anchor="end">PL085</text></g>
<g id="PL186" class="lf" transform="rotate(66.825)"><rect class="o" x="-396.6" y="-4.5" width="9" height="9"/><text x="-348" y="4.6" text-anchor="end">PL186</text></g>
<g id="PL194" class="lf" transform="rotate(70.45)"><rect class="o" x="-396.6" y="-4.5" width="9" height="9"/><text x="-348" y="4.6" text-anchor="end">PL194</text></g>
</g>
<g id="scalebar">
<path d="M376 51.7H383.3V103.3H376" fill="none" stroke="#333" stroke-width="1.1"/>
<text x="378" y="80.5" text-anchor="end" font-family="Liberation Sans, Arial, sans-serif" font-size="12" fill="#333">0.05</text>
</g>
<g id="legend" class="lg">
<rect x="542" y="773" width="9" height="9" fill="#fff" stroke="#555"/>
<text x="555.5" y="782.5">Medicinal landraces and cultivars (Korea)</text>
<rect x="542" y="788.5" width="9" height="9" fill="#000" stroke="#000"/>
<text x="555.5" y="798">Ornamental cultivars (Netherlands)</text>
</g>
</svg>
